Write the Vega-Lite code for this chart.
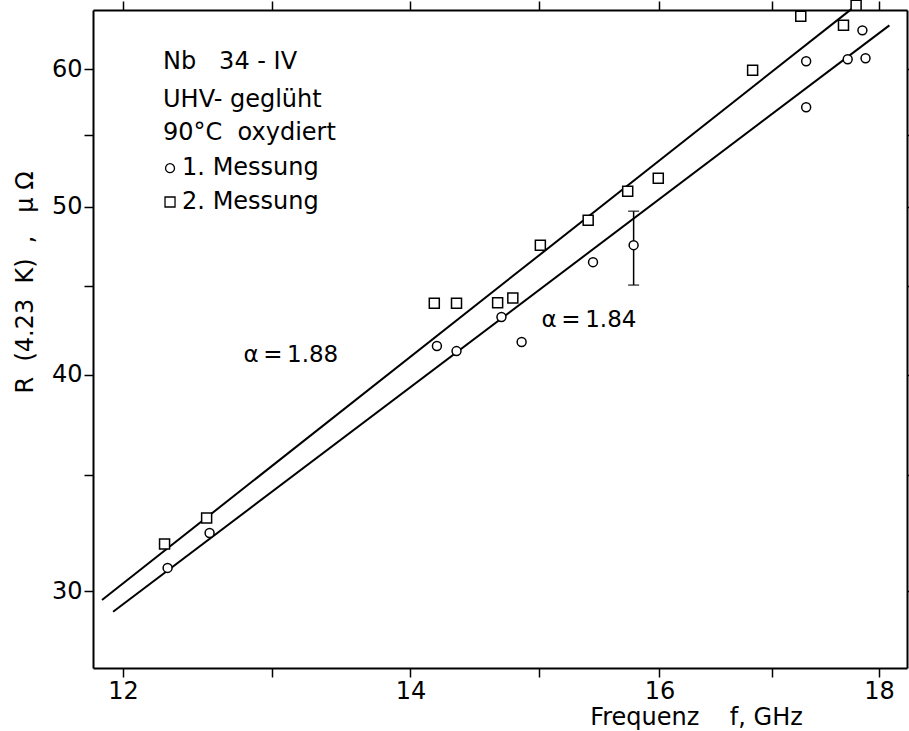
{
  "$schema": "https://vega.github.io/schema/vega-lite/v6.json",
  "width": 814,
  "height": 658,
  "autosize": {"type": "none"},
  "padding": {"left": 93, "top": 10, "right": 2, "bottom": 63},
  "background": "white",
  "config": {
    "view": {"stroke": null},
    "font": "DejaVu Sans",
    "axis": {
      "grid": false,
      "domainColor": "black",
      "domainWidth": 2,
      "tickColor": "black",
      "tickWidth": 1.5,
      "tickSize": 9,
      "labelColor": "black",
      "labelFontSize": 24,
      "labelFont": "DejaVu Sans",
      "titleFont": "DejaVu Sans",
      "titleFontSize": 24,
      "titleFontWeight": "normal",
      "titleColor": "black"
    }
  },
  "datasets": {
    "points": [
      {"serie": "2", "f": 12.27, "R": 31.95},
      {"serie": "2", "f": 12.55, "R": 33.07},
      {"serie": "2", "f": 14.18, "R": 43.98},
      {"serie": "2", "f": 14.35, "R": 43.98},
      {"serie": "2", "f": 14.67, "R": 44.0},
      {"serie": "2", "f": 14.79, "R": 44.28},
      {"serie": "2", "f": 15.01, "R": 47.5},
      {"serie": "2", "f": 15.4, "R": 49.1},
      {"serie": "2", "f": 15.73, "R": 51.03},
      {"serie": "2", "f": 15.99, "R": 51.91},
      {"serie": "2", "f": 16.82, "R": 59.91},
      {"serie": "2", "f": 17.26, "R": 64.36},
      {"serie": "2", "f": 17.66, "R": 63.59},
      {"serie": "2", "f": 17.78, "R": 65.3},
      {"serie": "1", "f": 12.29, "R": 30.95},
      {"serie": "1", "f": 12.57, "R": 32.42},
      {"serie": "1", "f": 14.2, "R": 41.55},
      {"serie": "1", "f": 14.35, "R": 41.27},
      {"serie": "1", "f": 14.7, "R": 43.18},
      {"serie": "1", "f": 14.86, "R": 41.77},
      {"serie": "1", "f": 15.44, "R": 46.44},
      {"serie": "1", "f": 15.78, "R": 47.5},
      {"serie": "1", "f": 17.31, "R": 57.04},
      {"serie": "1", "f": 17.31, "R": 60.63},
      {"serie": "1", "f": 17.7, "R": 60.79},
      {"serie": "1", "f": 17.84, "R": 63.17},
      {"serie": "1", "f": 17.87, "R": 60.87}
    ],
    "lines": [
      {"serie": "2", "f": 11.865, "R": 29.66},
      {"serie": "2", "f": 17.78, "R": 65.3},
      {"serie": "1", "f": 11.936, "R": 29.2},
      {"serie": "1", "f": 18.1, "R": 63.59}
    ],
    "err": [
      {"f": 15.78, "lo": 45.05, "hi": 49.69}
    ],
    "notes": [
      {"f": 12.26, "R": 60.55, "label": "Nb\u00a0\u00a0 34 - IV"},
      {"f": 12.26, "R": 57.62, "label": "UHV- geglüht"},
      {"f": 12.26, "R": 55.11, "label": "90°C\u00a0 oxydiert"},
      {"f": 12.386, "R": 52.61, "label": "1. Messung"},
      {"f": 12.386, "R": 50.3, "label": "2. Messung"}
    ],
    "alphas": [
      {"f": 12.8, "R": 41.04, "label": "α\u2009=\u20091.88"},
      {"f": 15.02, "R": 43.0, "label": "α\u2009=\u20091.84"}
    ],
    "keys": [
      {"serie": "1", "f": 12.306, "R": 52.61},
      {"serie": "2", "f": 12.306, "R": 50.3}
    ]
  },
  "resolve": {"axis": {"x": "independent", "y": "independent"}},
  "layer": [
    {
      "data": {"name": "lines"},
      "mark": {"type": "line", "color": "black", "strokeWidth": 2},
      "encoding": {
        "x": {
          "field": "f", "type": "quantitative",
          "scale": {"type": "log", "domain": [11.808, 18.272], "nice": false},
          "axis": {
            "orient": "bottom",
            "values": [12, 13, 14, 15, 16, 17, 18],
            "format": "d",
            "labelExpr": "datum.value % 2 == 0 ? datum.label : ''",
            "labelPadding": 2,
            "labelFlush": false,
            "labelOverlap": false,
            "title": "Frequenz\u00a0\u00a0\u00a0 f, GHz",
            "titleX": 603,
            "titleY": 49,
            "titleAlign": "center",
            "titleBaseline": "middle",
            "encode": {"ticks": {"update": {"y2": {"value": -9}}}}
          }
        },
        "y": {
          "field": "R", "type": "quantitative",
          "scale": {"type": "log", "domain": [27.1, 64.9], "nice": false},
          "axis": {
            "orient": "left",
            "values": [30, 35, 40, 45, 50, 55, 60],
            "format": "d",
            "labelExpr": "datum.value % 10 == 0 ? datum.label : ''",
            "labelPadding": 2,
            "labelFlush": false,
            "labelOverlap": false,
            "title": "R\u00a0 (4.23\u00a0 K)\u00a0 ,\u00a0\u00a0 μ Ω",
            "titleX": -68,
            "titleY": 272,
            "titleAlign": "center",
            "titleBaseline": "middle",
            "titleAngle": -90,
            "encode": {"ticks": {"update": {"x2": {"value": 9}}}}
          }
        },
        "detail": {"field": "serie"}
      }
    },
    {
      "data": {"name": "err"},
      "mark": {"type": "errorbar", "color": "black", "ticks": {"size": 11, "thickness": 1.5}, "rule": {"strokeWidth": 1.5}},
      "encoding": {
        "x": {"field": "f", "type": "quantitative", "scale": {"type": "log", "domain": [11.808, 18.272], "nice": false}, "axis": null},
        "y": {"field": "lo", "type": "quantitative", "scale": {"type": "log", "domain": [27.1, 64.9], "nice": false}, "axis": null},
        "y2": {"field": "hi"}
      }
    },
    {
      "data": {"name": "points"},
      "mark": {"type": "point", "filled": true, "fill": "white", "fillOpacity": 1, "stroke": "black", "strokeWidth": 1.5, "opacity": 1},
      "encoding": {
        "x": {
          "field": "f", "type": "quantitative",
          "scale": {"type": "log", "domain": [11.808, 18.272], "nice": false},
          "axis": {"orient": "top", "values": [12, 13, 14, 15, 16, 17, 18], "labels": false, "title": null,
                   "encode": {"ticks": {"update": {"y2": {"value": 9}}}}}
        },
        "y": {
          "field": "R", "type": "quantitative",
          "scale": {"type": "log", "domain": [27.1, 64.9], "nice": false},
          "axis": {"orient": "right", "values": [30, 35, 40, 45, 50, 55, 60], "labels": false, "title": null,
                   "encode": {"ticks": {"update": {"x2": {"value": -9}}}}}
        },
        "shape": {"field": "serie", "type": "nominal", "scale": {"domain": ["1", "2"], "range": ["circle", "square"]}, "legend": null},
        "size": {"field": "serie", "type": "nominal", "scale": {"domain": ["1", "2"], "range": [80, 100]}, "legend": null}
      }
    },
    {
      "data": {"name": "keys"},
      "mark": {"type": "point", "filled": false, "stroke": "black", "strokeWidth": 1.3, "opacity": 1},
      "encoding": {
        "x": {"field": "f", "type": "quantitative", "scale": {"type": "log", "domain": [11.808, 18.272], "nice": false}, "axis": null},
        "y": {"field": "R", "type": "quantitative", "scale": {"type": "log", "domain": [27.1, 64.9], "nice": false}, "axis": null},
        "shape": {"field": "serie", "type": "nominal", "scale": {"domain": ["1", "2"], "range": ["circle", "square"]}, "legend": null},
        "size": {"field": "serie", "type": "nominal", "scale": {"domain": ["1", "2"], "range": [45, 50]}, "legend": null}
      }
    },
    {
      "data": {"name": "notes"},
      "mark": {"type": "text", "align": "left", "baseline": "middle", "fontSize": 24, "font": "DejaVu Sans", "color": "black"},
      "encoding": {
        "x": {"field": "f", "type": "quantitative", "scale": {"type": "log", "domain": [11.808, 18.272], "nice": false}, "axis": null},
        "y": {"field": "R", "type": "quantitative", "scale": {"type": "log", "domain": [27.1, 64.9], "nice": false}, "axis": null},
        "text": {"field": "label"}
      }
    },
    {
      "data": {"name": "alphas"},
      "mark": {"type": "text", "align": "left", "baseline": "middle", "fontSize": 23, "font": "DejaVu Sans", "color": "black"},
      "encoding": {
        "x": {"field": "f", "type": "quantitative", "scale": {"type": "log", "domain": [11.808, 18.272], "nice": false}, "axis": null},
        "y": {"field": "R", "type": "quantitative", "scale": {"type": "log", "domain": [27.1, 64.9], "nice": false}, "axis": null},
        "text": {"field": "label"}
      }
    }
  ]
}
